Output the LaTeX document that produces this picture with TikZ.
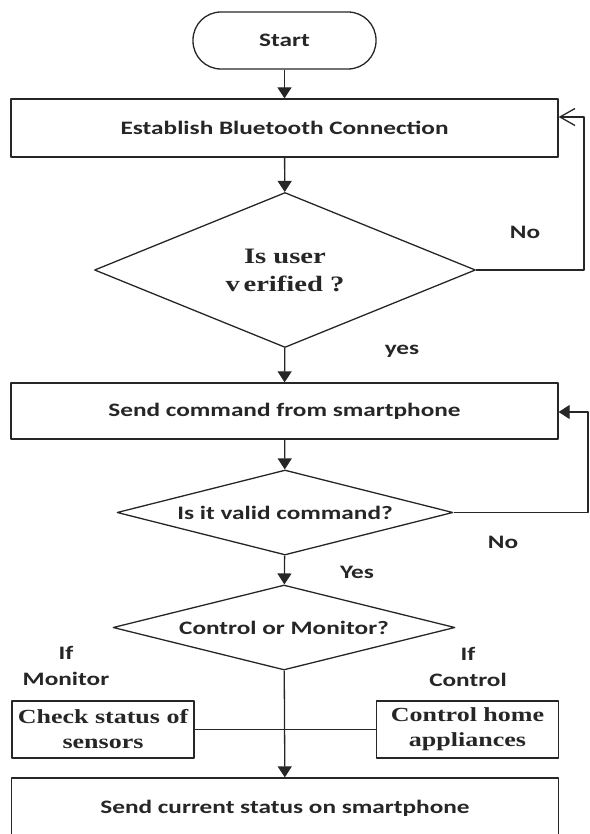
\documentclass[tikz,border=0pt]{standalone}
\usepackage{fontspec}
\newfontfamily\flowsans{Carlito}[FakeStretch=1.33]
\newfontfamily\flowserif{Liberation Serif}[FakeStretch=1.3]
\usetikzlibrary{shapes.geometric,arrows.meta}
\begin{document}
\begin{tikzpicture}[x=1pt, y=-1pt, line join=round, line width=1.3pt, color=black!85,
    >={Triangle[length=11pt,width=14pt]},
    every node/.style={inner sep=0pt},
    sans/.style={font=\flowsans\bfseries\fontsize{19}{26}\selectfont, align=center},
    serif/.style={font=\flowserif\bfseries\fontsize{20}{25}\selectfont, align=center},
    terminal/.style={draw, rectangle, rounded corners=28pt, sans, minimum width=183pt, minimum height=57pt},
    process/.style={draw, rectangle, sans, minimum width=547pt},
    decision/.style={draw, diamond, sans},
    smallbox/.style={draw, rectangle, serif, minimum width=182pt, minimum height=57pt},
    barb/.style={-{Straight Barb[length=15pt,width=17pt]}}]
    \useasboundingbox (0,0) rectangle (589,834);
    \node [terminal] (start) at (284.5,40.5) {Start};
    \node [process, minimum height=58pt] (connect) at (284.5,128) {Establish Bluetooth Connection};
    \node [decision, serif, font=\flowserif\bfseries\fontsize{22}{28}\selectfont, aspect=2.4,
        minimum width=381pt, minimum height=155pt] (verify) at (285,270) {Is user\\v\,erified ?};
    \node [process, minimum height=56pt] (send) at (284.5,411) {Send command from smartphone};
    \node [decision, aspect=4, minimum width=336pt, minimum height=85pt] (valid) at (285,512.5) {Is it valid command?};
    \node [decision, aspect=4, minimum width=342pt, minimum height=85pt] (mode) at (284,627.5) {Control or Monitor?};
    \node [smallbox] (check) at (103,729.5) {Check status of\\sensors};
    \node [smallbox] (control) at (467.5,729.5) {Control home\\appliances};
    \node [process, minimum height=60pt] (status) at (285,808) {Send current status on smartphone};
    \node [sans] (no1) at (525,232) {No};
    \node [sans] (yes1) at (402,351) {yes};
    \node [sans] (no2) at (503,542) {No};
    \node [sans] (yes2) at (357,572) {Yes};
    \node [sans] (ifmon) at (66,666) {If\\Monitor};
    \node [sans] (ifctl) at (468,667) {If\\Control};
    \coordinate (r1) at (584,117);
    \coordinate (r2) at (588,412);
    \draw [->] (start) -- (connect);
    \draw [->] (connect) -- (verify);
    \draw [->] (verify) -- (send);
    \draw [->] (send) -- (valid);
    \draw [->] (valid) -- (mode);
    \draw [->] (mode) -- (status);
    \draw (check) -- (control);
    \draw [barb] (verify.east) -| (r1) -- (r1 -| connect.east);
    \draw [->] (valid.east) -| (r2) -- (r2 -| send.east);
\end{tikzpicture}
\end{document}
